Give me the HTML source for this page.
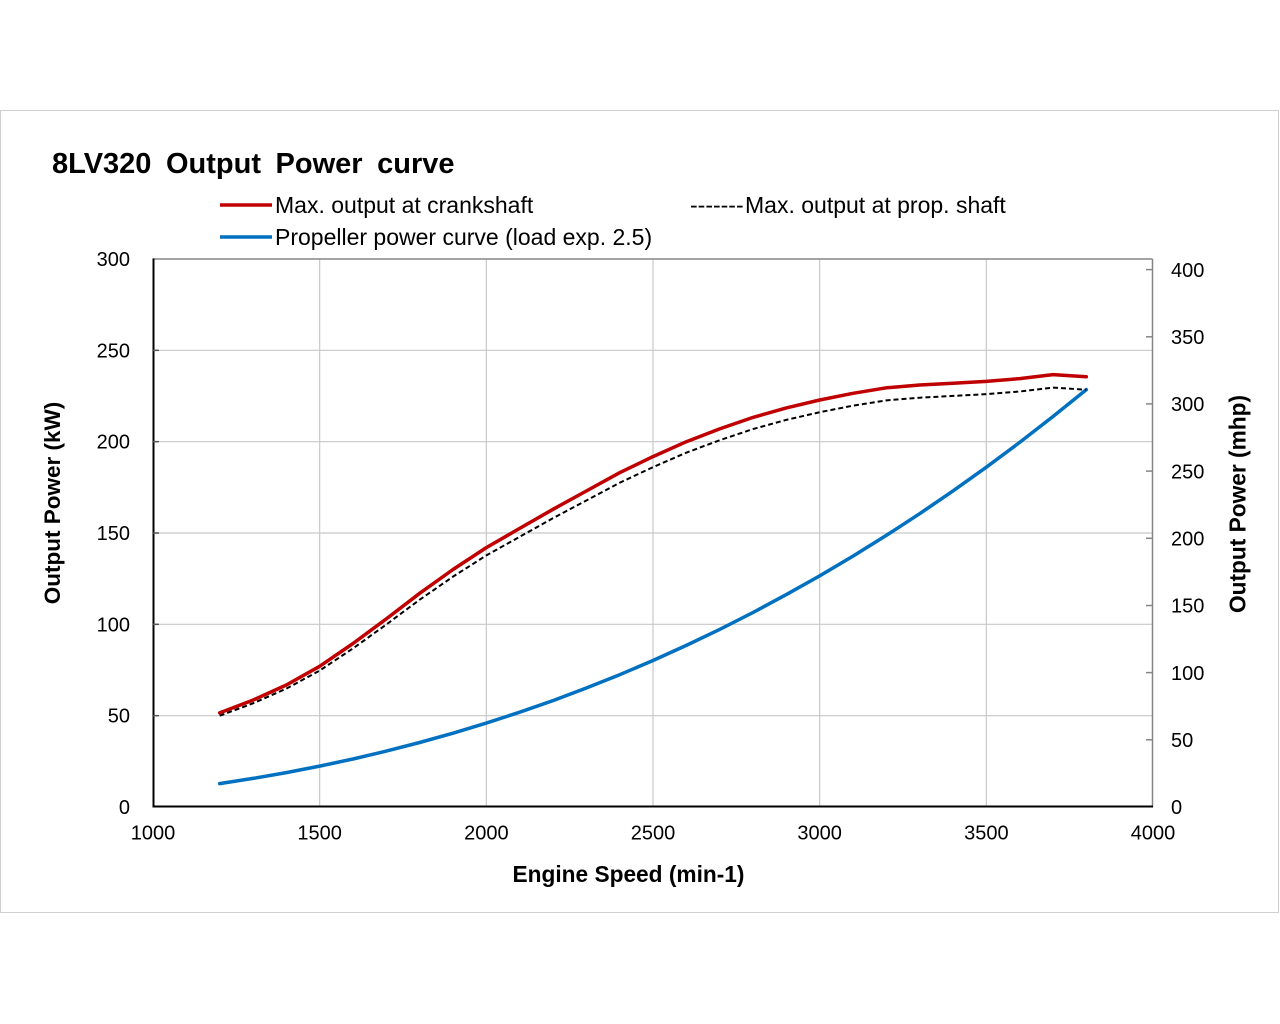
<!DOCTYPE html>
<html>
<head>
<meta charset="utf-8">
<style>
html,body{margin:0;padding:0;background:#fff;}
svg{display:block;}
text{font-family:"Liberation Sans",Arial,sans-serif;fill:#000;}
</style>
</head>
<body>
<svg width="1280" height="1024" viewBox="0 0 1280 1024" xmlns="http://www.w3.org/2000/svg">
<rect x="0" y="0" width="1280" height="1024" fill="#fff"/>
<!-- outer frame -->
<rect x="0.5" y="110.5" width="1278" height="802" fill="none" stroke="#d0d0d0" stroke-width="1"/>

<!-- title -->
<text x="52" y="173" font-size="29" font-weight="bold" word-spacing="6.5">8LV320 Output Power curve</text>

<!-- legend -->
<line x1="220" y1="205" x2="272" y2="205" stroke="#c00000" stroke-width="3.5"/>
<text x="275" y="213" font-size="23">Max. output at crankshaft</text>
<line x1="220" y1="237" x2="272" y2="237" stroke="#0070c0" stroke-width="3.5"/>
<text x="275" y="245" font-size="23">Propeller power curve (load exp. 2.5)</text>
<text x="690" y="213" font-size="23">-------</text>
<text x="745" y="213" font-size="23">Max. output at prop. shaft</text>

<!-- gridlines -->
<g stroke="#c8c8c8" stroke-width="1.2">
<line x1="153" y1="715.67" x2="1152" y2="715.67"/>
<line x1="153" y1="624.33" x2="1152" y2="624.33"/>
<line x1="153" y1="533" x2="1152" y2="533"/>
<line x1="153" y1="441.67" x2="1152" y2="441.67"/>
<line x1="153" y1="350.33" x2="1152" y2="350.33"/>
<line x1="319.67" y1="259" x2="319.67" y2="807"/>
<line x1="486.33" y1="259" x2="486.33" y2="807"/>
<line x1="653" y1="259" x2="653" y2="807"/>
<line x1="819.67" y1="259" x2="819.67" y2="807"/>
<line x1="986.33" y1="259" x2="986.33" y2="807"/>
</g>

<!-- top & right border -->
<line x1="153" y1="259" x2="1152.5" y2="259" stroke="#858585" stroke-width="1.5"/>
<line x1="1152.5" y1="259" x2="1152.5" y2="807" stroke="#858585" stroke-width="1.5"/>
<!-- right ticks -->
<g stroke="#858585" stroke-width="1.5">
<line x1="1146" y1="739.8" x2="1152" y2="739.8"/>
<line x1="1146" y1="672.6" x2="1152" y2="672.6"/>
<line x1="1146" y1="605.5" x2="1152" y2="605.5"/>
<line x1="1146" y1="538.3" x2="1152" y2="538.3"/>
<line x1="1146" y1="471.1" x2="1152" y2="471.1"/>
<line x1="1146" y1="403.9" x2="1152" y2="403.9"/>
<line x1="1146" y1="336.8" x2="1152" y2="336.8"/>
<line x1="1146" y1="269.6" x2="1152" y2="269.6"/>
</g>

<!-- left/bottom axes -->
<line x1="153.5" y1="258.5" x2="153.5" y2="807.5" stroke="#000" stroke-width="2"/>
<line x1="152.5" y1="806.5" x2="1153" y2="806.5" stroke="#000" stroke-width="2"/>
<g stroke="#555" stroke-width="1.5">
<line x1="153" y1="715.67" x2="159" y2="715.67"/>
<line x1="153" y1="624.33" x2="159" y2="624.33"/>
<line x1="153" y1="533" x2="159" y2="533"/>
<line x1="153" y1="441.67" x2="159" y2="441.67"/>
<line x1="153" y1="350.33" x2="159" y2="350.33"/>
</g>

<!-- series -->
<polyline fill="none" stroke="#0070c0" stroke-width="3.5" stroke-linejoin="round" stroke-linecap="round"
points="219.67,783.6 253,778.4 286.33,772.6 319.67,766.1 353,759.0 386.33,751.1 419.67,742.5 453,733.2 486.33,723.1 519.67,712.2 553,700.6 586.33,688.0 619.67,674.7 653,660.5 686.33,645.4 719.67,629.4 753,612.5 786.33,594.6 819.67,575.9 853,556.1 886.33,535.4 919.67,513.7 953,490.9 986.33,467.2 1019.67,442.4 1053,416.5 1086.33,389.6"/>

<polyline fill="none" stroke="#c00000" stroke-width="3.5" stroke-linejoin="round" stroke-linecap="round"
points="219.67,712.9 253,700.1 286.33,685.0 319.67,666.3 353,643.5 386.33,618.9 419.67,593.3 453,569.5 486.33,547.6 519.67,528.4 553,509.3 586.33,491.0 619.67,472.7 653,456.6 686.33,441.7 719.67,428.9 753,417.4 786.33,407.9 819.67,400.0 853,393.3 886.33,387.8 919.67,385.0 953,383.2 986.33,381.4 1019.67,378.6 1053,374.6 1086.33,376.8"/>

<polyline fill="none" stroke="#000" stroke-width="2" stroke-dasharray="5 3" stroke-linejoin="round"
points="219.67,715.75 253,703.35 286.33,688.64 319.67,670.57 353,648.41 386.33,624.49 419.67,599.69 453,576.65 486.33,555.39 519.67,536.79 553,518.18 586.33,500.47 619.67,482.75 653,467.15 686.33,452.63 719.67,440.22 753,429.06 786.33,419.84 819.67,412.23 853,405.67 886.33,400.36 919.67,397.70 953,395.92 986.33,394.16 1019.67,391.50 1053,387.60 1086.33,389.73"/>

<!-- left tick labels -->
<g font-size="20" text-anchor="end">
<text x="130" y="814">0</text>
<text x="130" y="722.7">50</text>
<text x="130" y="631.3">100</text>
<text x="130" y="540">150</text>
<text x="130" y="448.7">200</text>
<text x="130" y="357.3">250</text>
<text x="130" y="266">300</text>
</g>

<!-- right tick labels -->
<g font-size="20" text-anchor="start">
<text x="1171" y="814">0</text>
<text x="1171" y="747">50</text>
<text x="1171" y="679.8">100</text>
<text x="1171" y="612.7">150</text>
<text x="1171" y="545.5">200</text>
<text x="1171" y="478.3">250</text>
<text x="1171" y="411.1">300</text>
<text x="1171" y="344">350</text>
<text x="1171" y="276.8">400</text>
</g>

<!-- bottom tick labels -->
<g font-size="20" text-anchor="middle">
<text x="153" y="839.5">1000</text>
<text x="319.67" y="839.5">1500</text>
<text x="486.33" y="839.5">2000</text>
<text x="653" y="839.5">2500</text>
<text x="819.67" y="839.5">3000</text>
<text x="986.33" y="839.5">3500</text>
<text x="1153" y="839.5">4000</text>
</g>

<!-- axis titles -->
<text x="628.5" y="882" font-size="22.7" font-weight="bold" text-anchor="middle">Engine Speed (min-1)</text>
<text transform="translate(60,503) rotate(-90)" font-size="22.5" font-weight="bold" text-anchor="middle">Output Power (kW)</text>
<text transform="translate(1245.5,504) rotate(-90)" font-size="22.7" font-weight="bold" text-anchor="middle">Output Power (mhp)</text>
</svg>
</body>
</html>
